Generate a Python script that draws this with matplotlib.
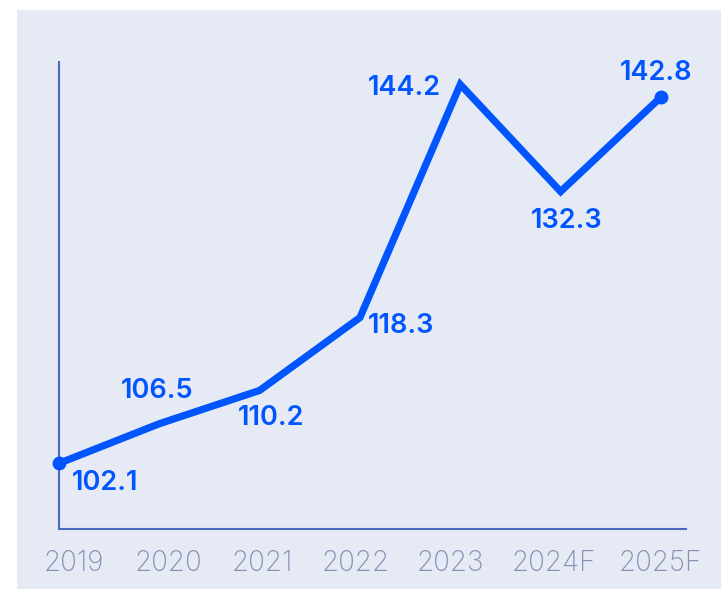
import matplotlib.pyplot as plt
from matplotlib.patches import Rectangle

years = ['2019', '2020', '2021', '2022', '2023', '2024F', '2025F']
values = [102.1, 106.5, 110.2, 118.3, 144.2, 132.3, 142.8]

# label offsets in pixels from each point (dx, dy)
label_offsets = [(46, -20), (-2, 33), (11, -28), (41, -8), (-56, -4), (6, -29), (-5, 24)]
# year labels are spread across the bottom rather than sitting under each point
tick_pos = [0.15, 1.09, 2.03, 2.96, 3.9, 4.93, 5.99]

line_color = '#0055ff'
axis_color = '#4a6bbf'
tick_color = '#8590b3'
bg = '#e6eaf5'

plt.rcParams['font.family'] = ['Inter', 'DejaVu Sans']

fig = plt.figure(figsize=(7.21, 5.89), dpi=100)
fig.patch.set_facecolor('white')
fig.patches.append(Rectangle((17 / 721, 0), 1, 1 - 10 / 589, transform=fig.transFigure,
                             facecolor=bg, edgecolor='none', zorder=-5))

ax = fig.add_axes([59 / 721, 1 - 529 / 589, (686 - 59) / 721, (529 - 62) / 589])
ax.set_facecolor('none')

x = list(range(len(values)))
ax.plot(x, values, color=line_color, linewidth=5.2, solid_joinstyle='miter',
        solid_capstyle='butt', clip_on=False, zorder=3)
ax.plot([x[0], x[-1]], [values[0], values[-1]], 'o', color=line_color,
        markersize=9, clip_on=False, zorder=4)

for xi, v, (dx, dy) in zip(x, values, label_offsets):
    ax.annotate(f'{v:.1f}', (xi, v), xytext=(dx, dy), textcoords='offset pixels',
                ha='center', va='center', fontsize=19.5, fontweight='semibold',
                color=line_color)

ax.set_xlim(0, 6.25)
ax.set_ylim(94.8, 146.7)

for s in ['top', 'right']:
    ax.spines[s].set_visible(False)
for s in ['left', 'bottom']:
    ax.spines[s].set_color(axis_color)
    ax.spines[s].set_linewidth(1.5)

ax.set_yticks([])
ax.set_xticks(tick_pos)
ax.set_xticklabels(years, fontsize=20, fontweight='light', color=tick_color)
ax.tick_params(axis='x', length=0, pad=15)

fig.savefig('out.png', dpi=100, facecolor=fig.get_facecolor())
